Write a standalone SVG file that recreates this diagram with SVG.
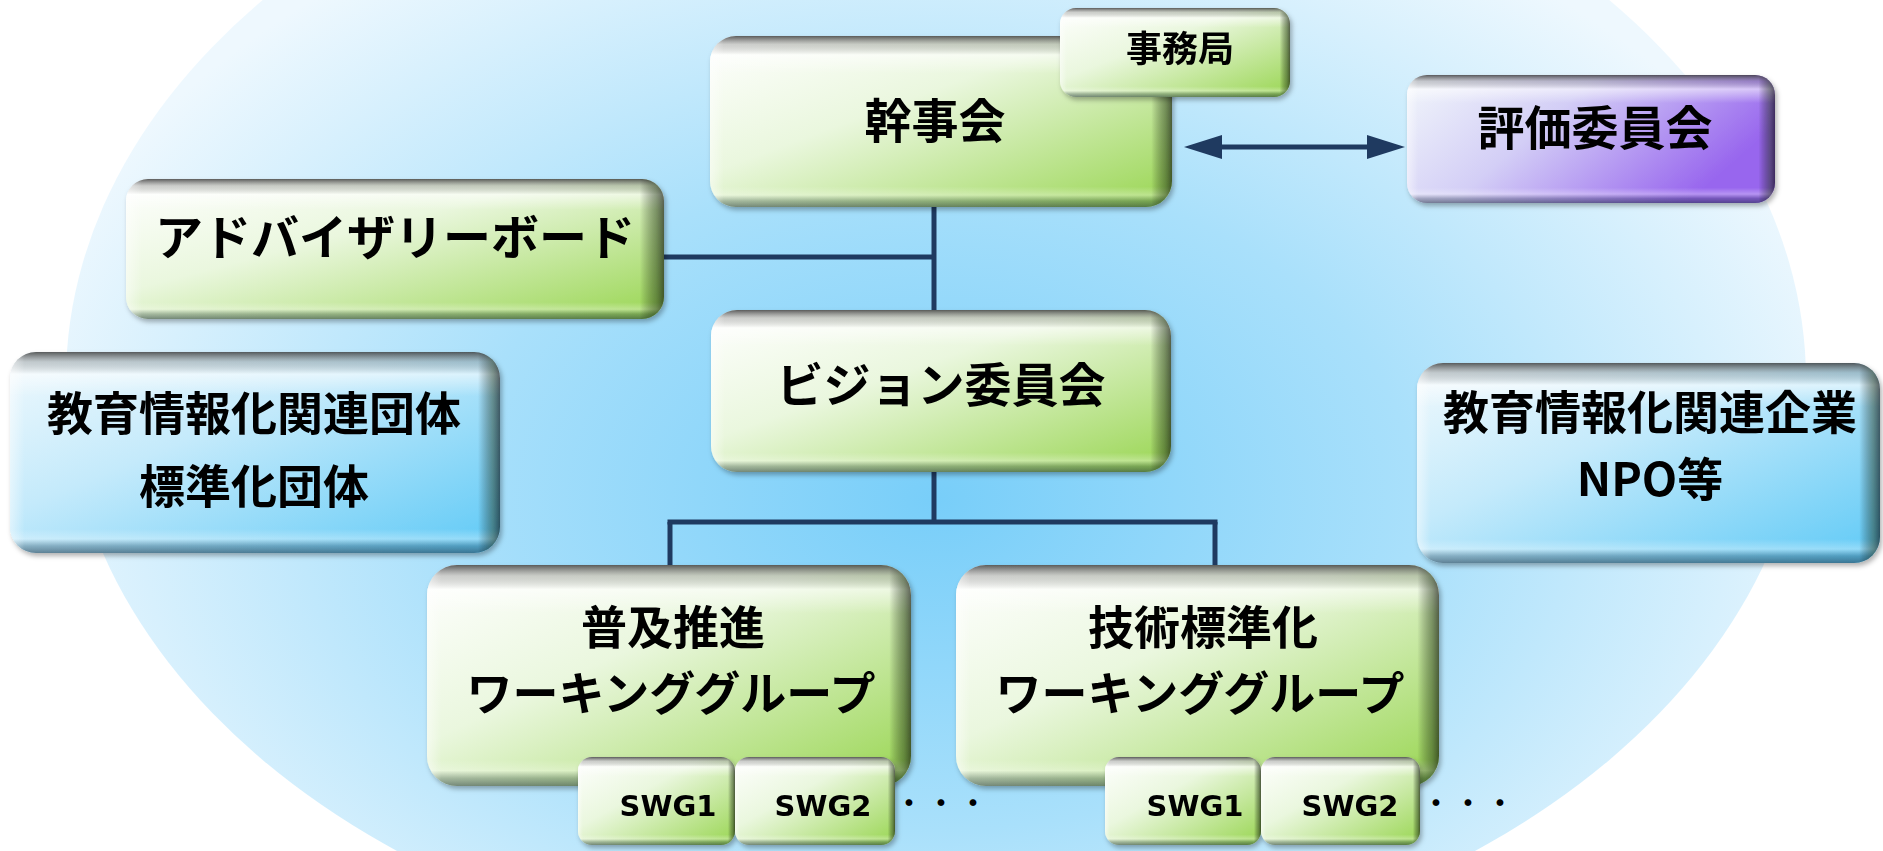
<svg xmlns="http://www.w3.org/2000/svg" width="1883" height="851" viewBox="0 0 1883 851">
<style>
.t{font-family:"Noto Sans CJK JP","Noto Sans",sans-serif;font-weight:bold;fill:#000;text-anchor:middle}
.s{font-family:"DejaVu Sans","Liberation Sans",sans-serif;font-weight:bold;fill:#000;text-anchor:middle;font-size:29px}
.d{font-family:"Noto Sans CJK JP",sans-serif;fill:#000;font-size:32px}
.conn{stroke:#1f3a60;stroke-width:5;fill:none}
.g{fill:url(#gGreen)}
.b{fill:url(#gBlue)}
.p{fill:url(#gPurple)}
.bv{fill:url(#bevV)}
.bh{fill:url(#bevH)}
</style>
<defs>
<radialGradient id="bg" cx="0.5" cy="0.6" r="0.55">
<stop offset="0" stop-color="#78cef9"/>
<stop offset="0.5" stop-color="#a9e0fb"/>
<stop offset="1" stop-color="#eef8fe"/>
</radialGradient>
<linearGradient id="gGreen" x1="0" y1="0" x2="1" y2="1">
<stop offset="0" stop-color="#ffffff"/>
<stop offset="0.4" stop-color="#eaf7de"/>
<stop offset="1" stop-color="#98d550"/>
</linearGradient>
<linearGradient id="gBlue" x1="0" y1="0" x2="1" y2="1">
<stop offset="0" stop-color="#f0f9fd"/>
<stop offset="0.4" stop-color="#c4eafb"/>
<stop offset="1" stop-color="#5dc9f6"/>
</linearGradient>
<linearGradient id="gPurple" x1="0" y1="0" x2="1" y2="0.4">
<stop offset="0" stop-color="#f2f7fb"/>
<stop offset="0.45" stop-color="#d3cef6"/>
<stop offset="1" stop-color="#9866ee"/>
</linearGradient>
<linearGradient id="bevV" x1="0" y1="0" x2="0" y2="1">
<stop offset="0" stop-color="#333" stop-opacity="0.8"/>
<stop offset="0.05" stop-color="#777" stop-opacity="0.35"/>
<stop offset="0.11" stop-color="#fff" stop-opacity="0.55"/>
<stop offset="0.22" stop-color="#fff" stop-opacity="0"/>
<stop offset="0.88" stop-color="#fff" stop-opacity="0"/>
<stop offset="0.93" stop-color="#fff" stop-opacity="0.3"/>
<stop offset="0.965" stop-color="#203040" stop-opacity="0.3"/>
<stop offset="1" stop-color="#102030" stop-opacity="0.5"/>
</linearGradient>
<linearGradient id="bevH" x1="0" y1="0" x2="1" y2="0">
<stop offset="0" stop-color="#fff" stop-opacity="0.5"/>
<stop offset="0.03" stop-color="#fff" stop-opacity="0"/>
<stop offset="0.955" stop-color="#000" stop-opacity="0"/>
<stop offset="0.985" stop-color="#1a2a10" stop-opacity="0.45"/>
<stop offset="1" stop-color="#000" stop-opacity="0.6"/>
</linearGradient>
<filter id="sh" x="-10%" y="-10%" width="120%" height="130%">
<feDropShadow dx="2" dy="3" stdDeviation="2.5" flood-color="#000" flood-opacity="0.3"/>
</filter>
<marker id="ah" viewBox="0 0 38 24" refX="22" refY="12" markerWidth="38" markerHeight="24" markerUnits="userSpaceOnUse" orient="auto-start-reverse">
<path d="M0,0 L38,12 L0,24 z" fill="#1f3a60"/>
</marker>
</defs>

<rect x="0" y="0" width="1883" height="851" fill="#ffffff"/>
<ellipse cx="936" cy="380" rx="870" ry="600" fill="url(#bg)"/>

<g id="connectors">
<line class="conn" x1="934" y1="205" x2="934" y2="312"/>
<line class="conn" x1="662" y1="257" x2="934" y2="257"/>
<line class="conn" x1="934" y1="470" x2="934" y2="522"/>
<line class="conn" x1="667.5" y1="522" x2="1217.5" y2="522"/>
<line class="conn" x1="670" y1="522" x2="670" y2="567"/>
<line class="conn" x1="1215" y1="522" x2="1215" y2="567"/>
<line class="conn" x1="1200" y1="147" x2="1389" y2="147" marker-start="url(#ah)" marker-end="url(#ah)"/>
</g>

<g id="kanjikai" filter="url(#sh)">
<rect class="g" x="710" y="36" width="462" height="171" rx="26"/>
<rect class="bv" x="710" y="36" width="462" height="171" rx="26"/>
<rect class="bh" x="710" y="36" width="462" height="171" rx="26"/>
<text class="t" x="935" y="138" font-size="47">幹事会</text>
</g>

<g id="jimukyoku" filter="url(#sh)">
<rect class="g" x="1060" y="8" width="230" height="89" rx="16"/>
<rect class="bv" x="1060" y="8" width="230" height="89" rx="16"/>
<rect class="bh" x="1060" y="8" width="230" height="89" rx="16"/>
<text class="t" x="1180" y="62" font-size="36">事務局</text>
</g>

<g id="hyoka" filter="url(#sh)">
<rect class="p" x="1407" y="75" width="368" height="128" rx="20"/>
<rect class="bv" x="1407" y="75" width="368" height="128" rx="20"/>
<rect class="bh" x="1407" y="75" width="368" height="128" rx="20"/>
<text class="t" x="1595" y="145" font-size="47">評価委員会</text>
</g>

<g id="advisory" filter="url(#sh)">
<rect class="g" x="126" y="179" width="538" height="140" rx="22"/>
<rect class="bv" x="126" y="179" width="538" height="140" rx="22"/>
<rect class="bh" x="126" y="179" width="538" height="140" rx="22"/>
<text class="t" x="395" y="255" font-size="48">アドバイザリーボード</text>
</g>

<g id="vision" filter="url(#sh)">
<rect class="g" x="711" y="310" width="460" height="162" rx="26"/>
<rect class="bv" x="711" y="310" width="460" height="162" rx="26"/>
<rect class="bh" x="711" y="310" width="460" height="162" rx="26"/>
<text class="t" x="941" y="402" font-size="47">ビジョン委員会</text>
</g>

<g id="dantai" filter="url(#sh)">
<rect class="b" x="10" y="352" width="490" height="201" rx="26"/>
<rect class="bv" x="10" y="352" width="490" height="201" rx="26"/>
<rect class="bh" x="10" y="352" width="490" height="201" rx="26"/>
<text class="t" x="254" y="430" font-size="46">教育情報化関連団体</text>
<text class="t" x="254" y="503" font-size="46">標準化団体</text>
</g>

<g id="kigyo" filter="url(#sh)">
<rect class="b" x="1417" y="363" width="463" height="200" rx="26"/>
<rect class="bv" x="1417" y="363" width="463" height="200" rx="26"/>
<rect class="bh" x="1417" y="363" width="463" height="200" rx="26"/>
<text class="t" x="1650" y="429" font-size="46">教育情報化関連企業</text>
<text class="t" x="1650" y="496" font-size="46">NPO等</text>
</g>

<g id="fukyu-wg" filter="url(#sh)">
<rect class="g" x="427" y="565" width="484" height="221" rx="30"/>
<rect class="bv" x="427" y="565" width="484" height="221" rx="30"/>
<rect class="bh" x="427" y="565" width="484" height="221" rx="30"/>
<text class="t" x="673" y="644" font-size="46">普及推進</text>
<text class="t" x="671" y="710" font-size="46">ワーキンググループ</text>
</g>

<g id="gijutsu-wg" filter="url(#sh)">
<rect class="g" x="956" y="565" width="483" height="221" rx="30"/>
<rect class="bv" x="956" y="565" width="483" height="221" rx="30"/>
<rect class="bh" x="956" y="565" width="483" height="221" rx="30"/>
<text class="t" x="1203" y="644" font-size="46">技術標準化</text>
<text class="t" x="1200" y="710" font-size="46">ワーキンググループ</text>
</g>

<g id="fukyu-swg1" filter="url(#sh)">
<rect class="g" x="578" y="757" width="157" height="88" rx="14"/>
<rect class="bv" x="578" y="757" width="157" height="88" rx="14"/>
<rect class="bh" x="578" y="757" width="157" height="88" rx="14"/>
<text class="s" x="668" y="816">SWG1</text>
</g>

<g id="fukyu-swg2" filter="url(#sh)">
<rect class="g" x="735" y="757" width="160" height="88" rx="14"/>
<rect class="bv" x="735" y="757" width="160" height="88" rx="14"/>
<rect class="bh" x="735" y="757" width="160" height="88" rx="14"/>
<text class="s" x="823" y="816">SWG2</text>
</g>

<g id="gijutsu-swg1" filter="url(#sh)">
<rect class="g" x="1105" y="757" width="156" height="88" rx="14"/>
<rect class="bv" x="1105" y="757" width="156" height="88" rx="14"/>
<rect class="bh" x="1105" y="757" width="156" height="88" rx="14"/>
<text class="s" x="1195" y="816">SWG1</text>
</g>

<g id="gijutsu-swg2" filter="url(#sh)">
<rect class="g" x="1261" y="757" width="159" height="88" rx="14"/>
<rect class="bv" x="1261" y="757" width="159" height="88" rx="14"/>
<rect class="bh" x="1261" y="757" width="159" height="88" rx="14"/>
<text class="s" x="1350" y="816">SWG2</text>
</g>

<g id="dots">
<text class="d" x="893" y="815">・・・</text>
<text class="d" x="1420" y="815">・・・</text>
</g>
</svg>
